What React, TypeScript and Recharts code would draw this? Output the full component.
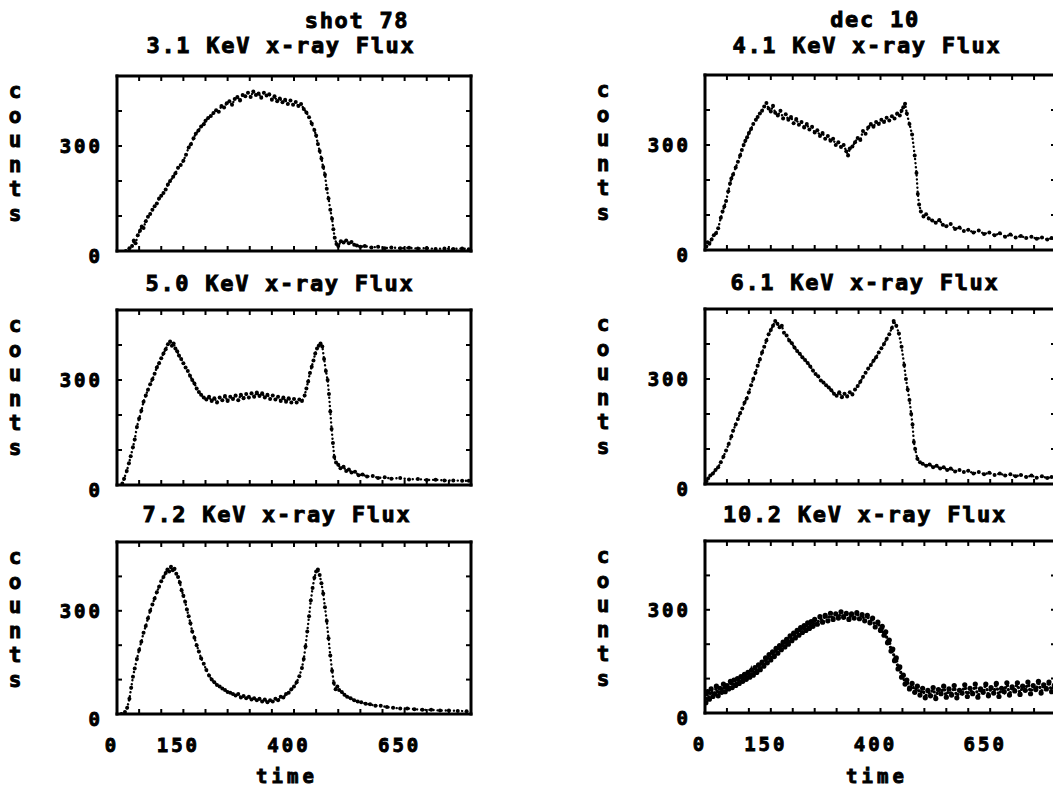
import React from 'react'
import { ComposedChart, Line, XAxis, YAxis } from 'recharts'

type Pt = [number, number]

// [time, counts]
const flux31: Pt[] = [
  [20, 0], [28, 8], [34, 14], [38, 30], [42, 22], [47, 45], [52, 58], [56, 70], [60, 66], [65, 85],
  [70, 98], [75, 106], [80, 118], [85, 128], [90, 136], [95, 150], [100, 158], [105, 166], [110, 176],
  [115, 190], [120, 200], [127, 212], [132, 222], [138, 238], [144, 246], [150, 258], [156, 275],
  [162, 296], [167, 305], [173, 322], [178, 335], [184, 344], [190, 356], [196, 362], [200, 372],
  [206, 380], [212, 386], [218, 394], [224, 402], [230, 398], [236, 414], [242, 410], [248, 422],
  [254, 428], [260, 418], [266, 434], [272, 440], [278, 430], [284, 446], [290, 442], [296, 452],
  [302, 440], [308, 456], [314, 446], [320, 450], [326, 438], [332, 452], [338, 444], [344, 448],
  [350, 432], [356, 442], [362, 428], [368, 436], [374, 425], [380, 432], [386, 420], [392, 430],
  [398, 418], [404, 426], [410, 414], [416, 420], [422, 406], [428, 396], [434, 382], [440, 364],
  [446, 346], [450, 330], [454, 306], [458, 286], [462, 264], [466, 240], [470, 218], [474, 178],
  [478, 150], [482, 118], [486, 92], [489, 62], [492, 38], [496, 20], [500, 14], [506, 28], [512, 24],
  [518, 30], [524, 22], [530, 26], [536, 18], [542, 16], [550, 12], [560, 14], [575, 10], [590, 12],
  [605, 8], [620, 10], [640, 8], [660, 9], [680, 7], [700, 8], [720, 6], [740, 7], [760, 6], [780, 7], [795, 5],
]

const flux41: Pt[] = [
  [3, 10], [6, 22], [10, 18], [15, 30], [20, 42], [25, 48], [30, 62], [36, 92], [40, 110], [44, 124],
  [48, 140], [53, 168], [57, 190], [60, 204], [64, 216], [70, 236], [75, 252], [80, 270], [84, 286],
  [88, 300], [92, 312], [96, 322], [100, 334], [105, 346], [110, 360], [116, 372], [120, 380],
  [125, 390], [130, 398], [135, 410], [140, 420], [145, 404], [150, 396], [155, 412], [160, 392],
  [166, 384], [172, 398], [178, 376], [184, 388], [190, 372], [196, 380], [202, 362], [208, 374],
  [214, 358], [220, 366], [226, 350], [232, 360], [238, 344], [244, 352], [250, 336], [256, 342],
  [262, 326], [268, 334], [274, 318], [280, 326], [286, 312], [292, 318], [298, 300], [304, 308],
  [310, 294], [316, 300], [322, 282], [326, 270], [330, 290], [336, 296], [342, 308], [348, 320],
  [354, 314], [360, 340], [366, 332], [372, 350], [378, 360], [384, 352], [390, 366], [396, 360],
  [402, 372], [408, 366], [414, 378], [420, 370], [426, 382], [432, 376], [438, 390], [444, 384],
  [448, 398], [452, 408], [456, 418], [460, 390], [466, 360], [472, 330], [478, 270], [482, 220],
  [485, 160], [488, 130], [492, 110], [498, 96], [504, 102], [510, 90], [518, 84], [526, 78], [534, 86],
  [542, 72], [550, 68], [560, 74], [570, 60], [580, 64], [590, 54], [600, 58], [612, 50], [624, 56],
  [636, 46], [648, 50], [660, 42], [672, 48], [684, 38], [696, 44], [708, 36], [720, 40], [732, 34],
  [744, 38], [756, 32], [768, 36], [780, 30], [790, 34],
]

const flux50: Pt[] = [
  [12, 4], [16, 18], [22, 40], [27, 62], [31, 82], [36, 108], [40, 130], [45, 166], [50, 190], [55, 212],
  [60, 238], [65, 256], [70, 272], [75, 288], [80, 302], [85, 318], [90, 336], [95, 348], [100, 362],
  [105, 376], [110, 388], [115, 402], [120, 410], [124, 398], [128, 404], [132, 390], [136, 382],
  [140, 370], [145, 360], [150, 348], [155, 336], [160, 326], [165, 312], [170, 300], [175, 290],
  [180, 276], [185, 266], [190, 258], [196, 250], [202, 244], [208, 252], [214, 240], [220, 248],
  [226, 236], [232, 250], [238, 242], [244, 254], [250, 240], [256, 252], [262, 246], [268, 256],
  [274, 242], [280, 258], [286, 248], [292, 260], [298, 250], [304, 262], [310, 252], [316, 264],
  [322, 254], [328, 262], [334, 250], [340, 258], [346, 246], [352, 256], [358, 244], [364, 252],
  [370, 240], [376, 250], [382, 238], [388, 248], [394, 236], [400, 246], [406, 236], [412, 244],
  [418, 240], [424, 256], [428, 276], [432, 296], [436, 320], [440, 338], [444, 356], [448, 376],
  [452, 390], [456, 398], [460, 404], [464, 396], [468, 360], [472, 326], [476, 300], [479, 260],
  [482, 210], [485, 160], [488, 120], [491, 80], [495, 64], [500, 58], [505, 48], [512, 52], [518, 40],
  [524, 44], [530, 36], [538, 38], [546, 28], [555, 30], [565, 24], [578, 26], [590, 20], [605, 22],
  [620, 18], [640, 20], [660, 16], [680, 17], [700, 14], [720, 15], [740, 13], [760, 13], [780, 12], [795, 12],
]

const flux61: Pt[] = [
  [3, 8], [7, 16], [12, 24], [18, 30], [24, 40], [30, 48], [36, 62], [42, 78], [48, 96], [54, 114],
  [60, 136], [64, 152], [70, 170], [75, 186], [80, 202], [85, 216], [90, 232], [95, 244], [100, 262],
  [105, 282], [110, 300], [115, 318], [120, 338], [125, 356], [130, 376], [135, 392], [140, 410],
  [145, 428], [150, 440], [155, 452], [160, 466], [165, 458], [170, 448], [175, 452], [180, 432],
  [186, 424], [192, 410], [198, 402], [204, 390], [210, 380], [216, 372], [222, 362], [228, 354],
  [234, 346], [240, 336], [246, 324], [252, 314], [258, 308], [264, 296], [270, 290], [276, 282],
  [282, 276], [288, 268], [294, 258], [300, 252], [306, 262], [312, 248], [318, 258], [324, 250],
  [330, 262], [336, 256], [342, 270], [348, 280], [354, 292], [360, 306], [366, 318], [372, 330],
  [378, 340], [384, 352], [390, 362], [396, 376], [402, 388], [408, 400], [414, 414], [420, 428],
  [426, 446], [430, 466], [436, 452], [442, 430], [448, 392], [454, 340], [458, 300], [462, 270],
  [466, 240], [470, 200], [473, 170], [476, 120], [479, 100], [484, 72], [490, 62], [496, 58],
  [504, 52], [512, 56], [520, 48], [528, 52], [536, 44], [544, 48], [552, 40], [560, 44], [570, 36],
  [580, 40], [590, 34], [600, 38], [612, 30], [624, 34], [636, 28], [648, 32], [660, 26], [672, 30],
  [684, 24], [696, 28], [708, 22], [720, 26], [732, 20], [744, 24], [756, 18], [768, 22], [780, 17], [790, 20],
]

const flux72: Pt[] = [
  [10, 0], [18, 6], [23, 18], [28, 44], [32, 76], [36, 108], [40, 132], [45, 160], [50, 186], [55, 210],
  [60, 236], [65, 256], [70, 278], [75, 300], [80, 318], [85, 336], [90, 354], [95, 370], [100, 386],
  [105, 398], [110, 410], [114, 420], [118, 414], [122, 428], [126, 418], [130, 422], [134, 408],
  [138, 398], [142, 382], [146, 360], [150, 344], [154, 326], [158, 304], [162, 284], [166, 264],
  [170, 240], [175, 222], [180, 200], [185, 182], [190, 162], [196, 146], [202, 128], [208, 112],
  [214, 100], [220, 92], [226, 84], [232, 80], [238, 74], [244, 70], [250, 64], [256, 62], [262, 58],
  [268, 54], [274, 58], [280, 48], [286, 52], [292, 46], [298, 50], [304, 42], [310, 46], [316, 40],
  [322, 44], [328, 36], [334, 42], [340, 34], [346, 40], [352, 36], [358, 44], [364, 40], [370, 50],
  [376, 48], [382, 58], [388, 62], [394, 72], [400, 80], [406, 92], [412, 110], [418, 134], [422, 160],
  [426, 196], [430, 240], [434, 284], [438, 330], [442, 366], [446, 396], [450, 414], [454, 420],
  [458, 404], [462, 380], [466, 350], [470, 310], [474, 270], [478, 220], [482, 170], [486, 126],
  [490, 90], [494, 72], [498, 80], [502, 70], [508, 64], [514, 56], [520, 50], [528, 46], [536, 40],
  [544, 36], [552, 34], [562, 30], [572, 28], [584, 24], [596, 24], [610, 20], [624, 18], [640, 16],
  [656, 16], [672, 14], [690, 12], [710, 12], [730, 10], [750, 10], [770, 9], [790, 8],
]

const flux102: Pt[] = [
  [2, 30], [6, 62], [10, 40], [14, 70], [18, 48], [22, 56], [26, 78], [30, 50], [34, 72], [38, 60],
  [42, 84], [46, 62], [50, 80], [54, 70], [58, 92], [62, 74], [66, 96], [70, 80], [74, 100], [78, 86],
  [82, 106], [86, 92], [90, 112], [94, 98], [98, 118], [102, 104], [106, 124], [110, 110], [114, 132],
  [118, 118], [122, 140], [126, 126], [130, 148], [134, 136], [138, 160], [142, 146], [146, 170],
  [150, 154], [154, 178], [158, 164], [162, 188], [166, 174], [170, 196], [174, 184], [178, 206],
  [182, 192], [186, 214], [190, 200], [194, 224], [198, 210], [202, 232], [206, 218], [210, 240],
  [214, 226], [218, 248], [222, 234], [226, 254], [230, 240], [234, 262], [238, 246], [242, 266],
  [246, 252], [250, 272], [256, 258], [262, 280], [268, 264], [274, 284], [280, 268], [286, 290],
  [292, 272], [298, 288], [304, 276], [310, 294], [316, 278], [322, 290], [328, 272], [334, 288],
  [340, 276], [346, 292], [352, 274], [358, 286], [364, 268], [370, 284], [376, 262], [382, 276],
  [388, 250], [394, 264], [400, 240], [404, 252], [408, 226], [412, 236], [416, 204], [420, 212],
  [424, 180], [428, 186], [432, 152], [436, 160], [440, 128], [444, 134], [448, 104], [452, 110],
  [456, 84], [460, 96], [466, 70], [472, 86], [478, 60], [484, 78], [490, 52], [496, 72], [502, 44],
  [508, 66], [514, 50], [520, 74], [526, 42], [532, 68], [538, 56], [544, 78], [550, 46], [556, 70],
  [562, 52], [568, 80], [574, 44], [580, 66], [586, 58], [592, 82], [598, 48], [604, 72], [610, 56],
  [616, 84], [622, 46], [628, 70], [634, 60], [640, 84], [646, 50], [652, 74], [658, 58], [664, 86],
  [670, 48], [676, 72], [682, 62], [688, 88], [694, 52], [700, 76], [706, 64], [712, 88], [718, 54],
  [724, 78], [730, 66], [736, 90], [742, 56], [748, 80], [754, 68], [760, 92], [766, 58], [772, 82],
  [778, 70], [784, 90], [790, 62], [796, 80],
]

const xTicks = [0, 50, 100, 150, 200, 250, 300, 350, 400, 450, 500, 550, 600, 650, 700, 750, 800]
const xTickLabels = [0, 150, 400, 650]
const yTicks = [0, 100, 200, 300, 400, 500]
const yTickLabels = [0, 300]

const headers = ['shot 78', 'dec 10']
const titles = ['3.1 KeV x-ray Flux', '4.1 KeV x-ray Flux', '5.0 KeV x-ray Flux', '6.1 KeV x-ray Flux', '7.2 KeV x-ray Flux', '10.2 KeV x-ray Flux']
const yName = ['c', 'o', 'u', 'n', 't', 's']
const xName = 'time'

const series = [flux31, flux41, flux50, flux61, flux72, flux102]

// plot boxes in page pixels
const boxes = [
  { left: 117, top: 76, w: 354, h: 175, tx: 281, ty: 53, showX: false },
  { left: 705, top: 75, w: 351, h: 175, tx: 867, ty: 53, showX: false },
  { left: 117, top: 310, w: 354, h: 175, tx: 280, ty: 291, showX: false },
  { left: 705, top: 309, w: 351, h: 175, tx: 865, ty: 290, showX: false },
  { left: 117, top: 542, w: 354, h: 172, tx: 277, ty: 522, showX: true },
  { left: 705, top: 541, w: 351, h: 172, tx: 865, ty: 522, showX: true },
]

// heavy pixel-ish lettering, thickened with a stroke
const font = { fontFamily: '"DejaVu Sans Mono", monospace', fontWeight: 700, fill: '#000', stroke: '#000', strokeWidth: 0.9 }
const axisStyle = { stroke: '#000', strokeWidth: 3, strokeLinecap: 'square' as const }
const tickStyle = { stroke: '#000', strokeWidth: 2 }

const XTick = (p: any) => {
  if (!xTickLabels.includes(p.payload.value)) return <g />
  return (
    <text x={p.x - 5} y={p.y + 38} textAnchor="middle" fontSize={19} letterSpacing={3} {...font}>
      {p.payload.value}
    </text>
  )
}

const YTick = (p: any) => {
  const v = p.payload.value
  if (!yTickLabels.includes(v)) return <g />
  return (
    <text x={p.x - 14} y={p.y + 7 + (v === 0 ? 5 : 0)} textAnchor="end" fontSize={19} letterSpacing={3} {...font}>
      {v}
    </text>
  )
}

const Empty = () => <g />

function Panel({ data, box, heavy }: { data: Pt[]; box: typeof boxes[number]; heavy: boolean }) {
  const rows = data.map(([t, c]) => ({ t, c }))
  return (
    <div style={{ position: 'absolute', left: box.left - 60, top: box.top - 14 }}>
      <ComposedChart width={box.w + 74} height={box.h + 74} data={rows} margin={{ top: 10, right: 10, bottom: 10, left: 0 }}>
        <XAxis xAxisId="b" dataKey="t" type="number" domain={[0, 800]} ticks={xTicks} interval={0}
          height={50} axisLine={axisStyle} tickLine={tickStyle} tickSize={-5} tickMargin={5}
          tick={box.showX ? XTick : Empty} allowDataOverflow />
        <XAxis xAxisId="t" dataKey="t" type="number" orientation="top" domain={[0, 800]} ticks={xTicks} interval={0}
          height={4} axisLine={axisStyle} tickLine={tickStyle} tickSize={-5} tick={Empty} allowDataOverflow />
        <YAxis yAxisId="l" dataKey="c" type="number" domain={[0, 500]} ticks={yTicks} interval={0}
          width={60} axisLine={axisStyle} tickLine={tickStyle} tickSize={-5} tickMargin={5} tick={YTick} allowDataOverflow />
        <YAxis yAxisId="r" dataKey="c" type="number" orientation="right" domain={[0, 500]} ticks={yTicks} interval={0}
          width={4} axisLine={axisStyle} tickLine={tickStyle} tickSize={-5} tick={Empty} allowDataOverflow />
        <Line xAxisId="b" yAxisId="l" type="linear" dataKey="c" stroke="#000"
          strokeWidth={heavy ? 3.2 : 2.4} strokeDasharray="0.1 4" strokeLinecap="round"
          dot={{ r: heavy ? 2.6 : 2, fill: '#000', stroke: 'none' }} isAnimationActive={false} />
      </ComposedChart>
    </div>
  )
}

export default function App() {
  return (
    <div style={{ position: 'absolute', left: 0, top: 0, width: 1053, height: 790, overflow: 'hidden', background: '#fff' }}>
      {series.map((s, i) => (
        <Panel key={i} data={s} box={boxes[i]} heavy={i === 5} />
      ))}
      <svg width={1053} height={790} style={{ position: 'absolute', left: 0, top: 0, pointerEvents: 'none' }}>
        <text x={357} y={28} textAnchor="middle" fontSize={22} letterSpacing={1.7} {...font}>{headers[0]}</text>
        <text x={875} y={27} textAnchor="middle" fontSize={22} letterSpacing={1.7} {...font}>{headers[1]}</text>
        {titles.map((t, i) => (
          <text key={t} x={boxes[i].tx} y={boxes[i].ty} textAnchor="middle" fontSize={22} letterSpacing={1.7} {...font}>{t}</text>
        ))}
        {boxes.map((b, i) =>
          yName.map((ch, k) => (
            <text key={`${i}-${k}`} x={i % 2 === 0 ? 15 : 603} y={b.top + 22 + k * 24.5} textAnchor="middle" fontSize={21} {...font}>{ch}</text>
          ))
        )}
        <text x={287} y={783} textAnchor="middle" fontSize={19} letterSpacing={4} {...font}>{xName}</text>
        <text x={877} y={783} textAnchor="middle" fontSize={19} letterSpacing={4} {...font}>{xName}</text>
      </svg>
    </div>
  )
}
